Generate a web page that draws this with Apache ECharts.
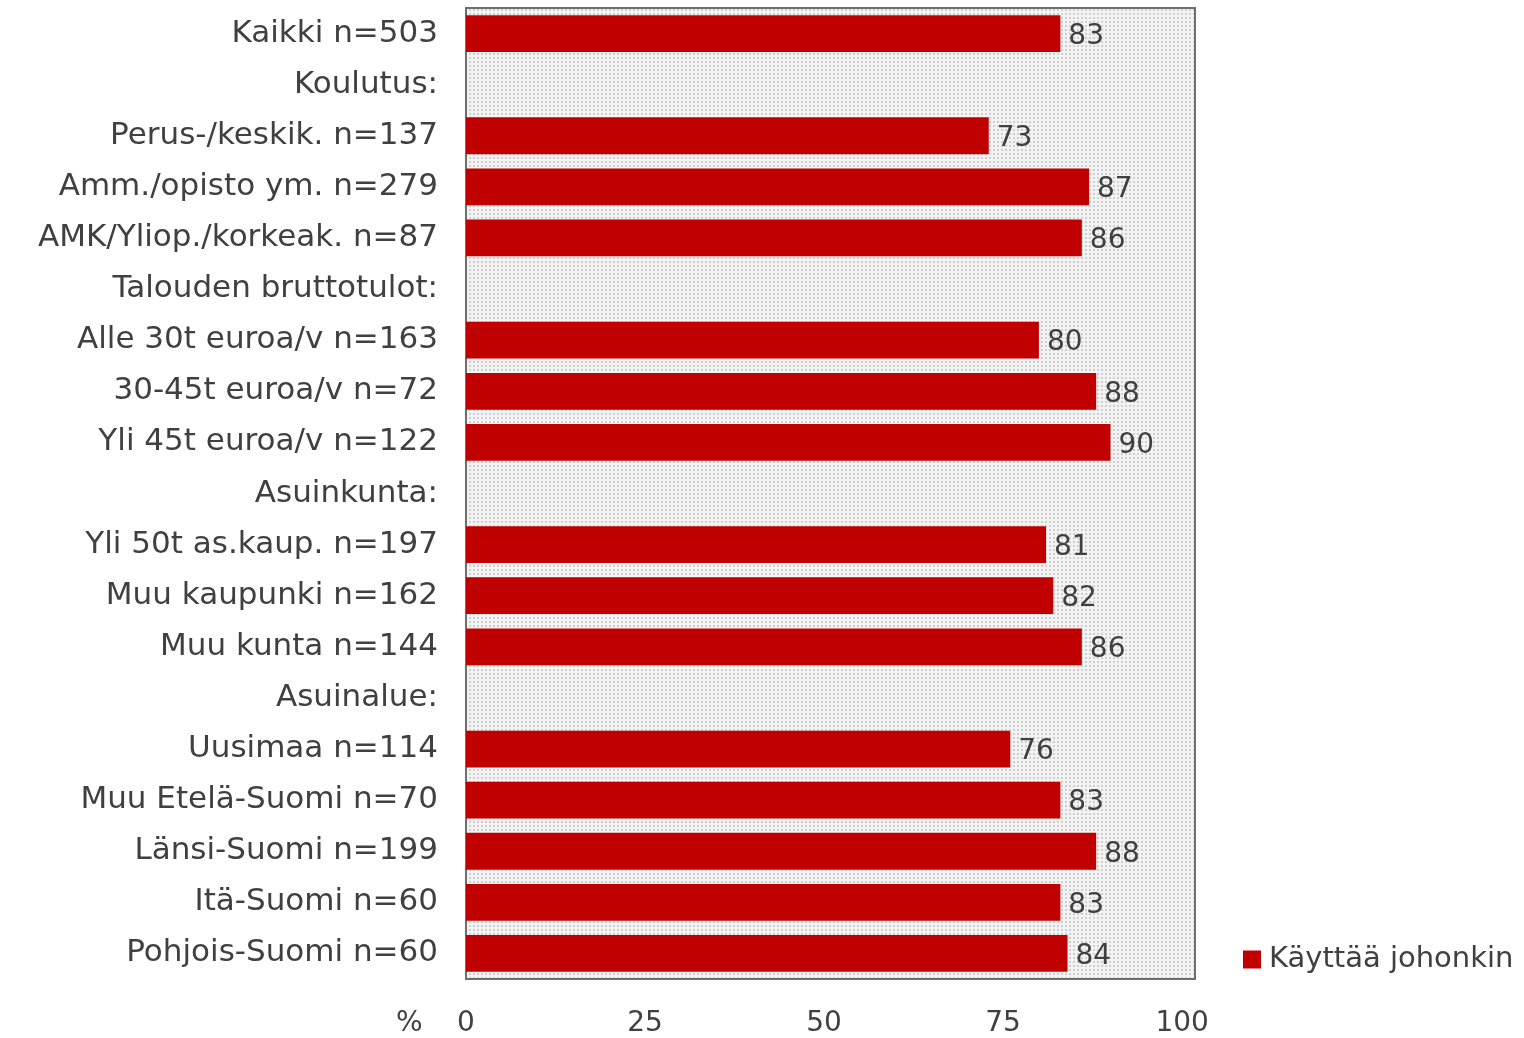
<!DOCTYPE html>
<html>
<head>
<meta charset="utf-8">
<script src="https://cdn.jsdelivr.net/npm/echarts@6/dist/echarts.min.js"></script>
<style>
html,body{margin:0;padding:0;background:#fff;}
#chart{width:1524px;height:1038px;}
</style>
</head>
<body>
<div id="chart"></div>
<script>
const categories = [
  'Kaikki n=503',
  'Koulutus:',
  'Perus-/keskik. n=137',
  'Amm./opisto ym. n=279',
  'AMK/Yliop./korkeak. n=87',
  'Talouden bruttotulot:',
  'Alle 30t euroa/v n=163',
  '30-45t euroa/v n=72',
  'Yli 45t euroa/v n=122',
  'Asuinkunta:',
  'Yli 50t as.kaup. n=197',
  'Muu kaupunki n=162',
  'Muu kunta n=144',
  'Asuinalue:',
  'Uusimaa n=114',
  'Muu Etelä-Suomi n=70',
  'Länsi-Suomi n=199',
  'Itä-Suomi n=60',
  'Pohjois-Suomi n=60'
];
const values = [83, null, 73, 87, 86, null, 80, 88, 90, null, 81, 82, 86, null, 76, 83, 88, 83, 84];
const seriesName = 'Käyttää johonkin';
const xTicks = [0, 25, 50, 75, 100];

const pc = document.createElement('canvas');
pc.width = 4; pc.height = 4;
const pctx = pc.getContext('2d');
pctx.fillStyle = '#f3f3f3';
pctx.fillRect(0, 0, 4, 4);
pctx.fillStyle = '#cfcfcf';
pctx.fillRect(1, 1, 2, 2);

const FONT = '"DejaVu Sans", Verdana, sans-serif';
const TXT = '#404040';

const chart = echarts.init(document.getElementById('chart'), null, {renderer: 'canvas'});
chart.setOption({
  animation: false,
  textStyle: {fontFamily: FONT},
  grid: {
    left: 466, top: 8, right: 329, bottom: 56,
    show: true,
    backgroundColor: {image: pc, repeat: 'repeat'},
    borderColor: '#6e6e6e',
    borderWidth: 2
  },
  legend: {
    data: [seriesName],
    left: 1238, top: 940,
    icon: 'rect',
    itemWidth: 18, itemHeight: 18,
    textStyle: {fontFamily: FONT, fontSize: 29, color: TXT, padding: [0, 0, 0, 3]}
  },
  xAxis: {
    type: 'value',
    min: 0, max: 101.8, interval: 25,
    axisLine: {show: false},
    axisTick: {show: false},
    splitLine: {show: false},
    axisLabel: {
      fontFamily: FONT, fontSize: 28, color: TXT, margin: 31,
      formatter: function (v) { return xTicks.indexOf(v) >= 0 ? String(v) : ''; }
    }
  },
  yAxis: {
    type: 'category',
    data: categories,
    inverse: true,
    axisLine: {show: false},
    axisTick: {show: false},
    axisLabel: {fontFamily: FONT, fontSize: 31, color: TXT, margin: 28}
  },
  graphic: [{
    type: 'text',
    left: 396, top: 1010,
    style: {text: '%', fontFamily: FONT, fontSize: 28, fill: TXT}
  }],
  series: [{
    name: seriesName,
    type: 'bar',
    data: values,
    barCategoryGap: '28%',
    itemStyle: {color: '#c00000'},
    label: {
      show: true, position: 'right', distance: 8,
      fontFamily: FONT, fontSize: 28, color: TXT,
      offset: [0, 3]
    }
  }]
});
</script>
</body>
</html>
